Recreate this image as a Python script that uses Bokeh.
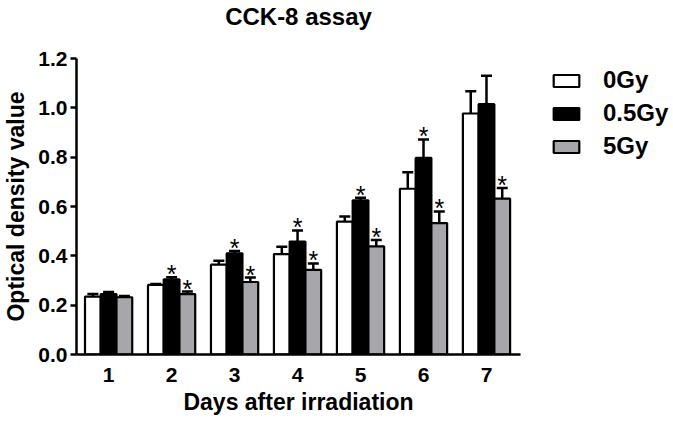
from bokeh.plotting import figure
from bokeh.models import (ColumnDataSource, Range1d, FixedTicker, NumeralTickFormatter,
                          Legend, LegendItem, Title)
from bokeh.core.properties import value
from bokeh.embed import file_html
from bokeh.resources import INLINE

days = [1, 2, 3, 4, 5, 6, 7]
day_labels = ["1", "2", "3", "4", "5", "6", "7"]
series_names = ["0Gy", "0.5Gy", "5Gy"]
mean_0gy = [0.235, 0.282, 0.364, 0.407, 0.539, 0.672, 0.977]
mean_05gy = [0.245, 0.305, 0.410, 0.458, 0.625, 0.797, 1.015]
mean_5gy = [0.232, 0.245, 0.294, 0.343, 0.438, 0.533, 0.632]
err_0gy = [0.010, 0.004, 0.016, 0.030, 0.020, 0.067, 0.090]
err_05gy = [0.008, 0.008, 0.010, 0.045, 0.010, 0.075, 0.115]
err_5gy = [0.005, 0.010, 0.018, 0.026, 0.026, 0.047, 0.043]
star_0gy = [0, 0, 0, 0, 0, 0, 0]
star_05gy = [0, 1, 1, 1, 1, 1, 0]
star_5gy = [0, 1, 1, 1, 1, 1, 1]
y_ticks = [0.0, 0.2, 0.4, 0.6, 0.8, 1.0, 1.2]
chart_title = "CCK-8 assay"

FONT = "Liberation Sans"
fills = ["white", "black", "#a7a7ab"]
offsets = [-0.25, 0.0, 0.25]
bar_w = 0.25

p = figure(width=657, height=421, frame_width=444, frame_height=296,
           output_backend="svg", toolbar_location=None,
           x_range=Range1d(0.49, 7.54), y_range=Range1d(0, 1.2),
           min_border_left=70, min_border_right=143, min_border_top=56, min_border_bottom=69)
p.outline_line_color = None
p.xgrid.grid_line_color = None
p.ygrid.grid_line_color = None

renderers = []
all_means = [mean_0gy, mean_05gy, mean_5gy]
all_errs = [err_0gy, err_05gy, err_5gy]
all_stars = [star_0gy, star_05gy, star_5gy]
for i in range(3):
    xs = [d + offsets[i] for d in days]
    tops = all_means[i]
    ups = [m + e for m, e in zip(tops, all_errs[i])]
    src = ColumnDataSource(dict(x=xs, top=tops, up=ups))
    r = p.vbar(x="x", top="top", width=bar_w, bottom=0, source=src,
               fill_color=fills[i], line_color="black", line_width=2.2)
    renderers.append(r)
    p.segment(x0="x", y0="top", x1="x", y1="up", source=src, line_color="black", line_width=2.5)
    p.scatter(x="x", y="up", marker="dash", size=11, source=src, line_color="black", line_width=2.5)
    sx = [x for x, s in zip(xs, all_stars[i]) if s]
    sy = [u for u, s in zip(ups, all_stars[i]) if s]
    ssrc = ColumnDataSource(dict(x=sx, y=sy, t=["*"] * len(sx)))
    p.text(x="x", y="y", text="t", source=ssrc, text_align="center", text_baseline="middle",
           y_offset=-3, text_font=value(FONT), text_font_size="25px", text_color="black")

# axes
p.yaxis.ticker = FixedTicker(ticks=y_ticks)
p.yaxis.formatter = NumeralTickFormatter(format="0.0")
p.yaxis.axis_label = "Optical density value"
p.xaxis.ticker = FixedTicker(ticks=days)
p.xaxis.major_label_overrides = {d: l for d, l in zip(days, day_labels)}
p.xaxis.axis_label = "Days after irradiation"
for ax in (p.xaxis[0], p.yaxis[0]):
    ax.axis_line_width = 2.5
    ax.axis_line_color = "black"
    ax.major_label_text_font = FONT
    ax.major_label_text_font_style = "bold"
    ax.major_label_text_font_size = "21px"
    ax.major_label_text_color = "black"
    ax.axis_label_text_font = FONT
    ax.axis_label_text_font_style = "bold"
    ax.axis_label_text_font_size = "23px"
    ax.axis_label_text_color = "black"
    ax.minor_tick_line_color = None
p.yaxis.major_tick_line_width = 2.5
p.yaxis.major_tick_line_color = "black"
p.yaxis.major_tick_in = 0
p.yaxis.major_tick_out = 6
p.yaxis.major_label_standoff = 3
p.yaxis.axis_label_standoff = 6
p.xaxis.major_tick_line_color = None
p.xaxis.major_tick_in = 0
p.xaxis.major_tick_out = 0
p.xaxis.major_label_standoff = 13
p.xaxis.axis_label_standoff = 4

# real title is the outer one; an empty spacer title sits next to the frame
p.title.text = chart_title
p.title.align = "center"
p.title.text_font = FONT
p.title.text_font_style = "bold"
p.title.text_font_size = "24px"
p.title.text_color = "black"
p.title.standoff = 0
p.add_layout(Title(text=" ", text_font=FONT, text_font_size="24px", standoff=0), "above")

legend = Legend(items=[LegendItem(label=n, renderers=[r]) for n, r in zip(series_names, renderers)],
                location=(30, 194), orientation="vertical",
                glyph_width=32, glyph_height=15, label_height=20, spacing=5,
                label_standoff=21, padding=0, margin=0,
                border_line_color=None, background_fill_alpha=0,
                label_text_font=FONT, label_text_font_style="bold",
                label_text_font_size="24px", label_text_color="black")
p.add_layout(legend, "right")

open("out.html", "w").write(file_html(p, INLINE))
